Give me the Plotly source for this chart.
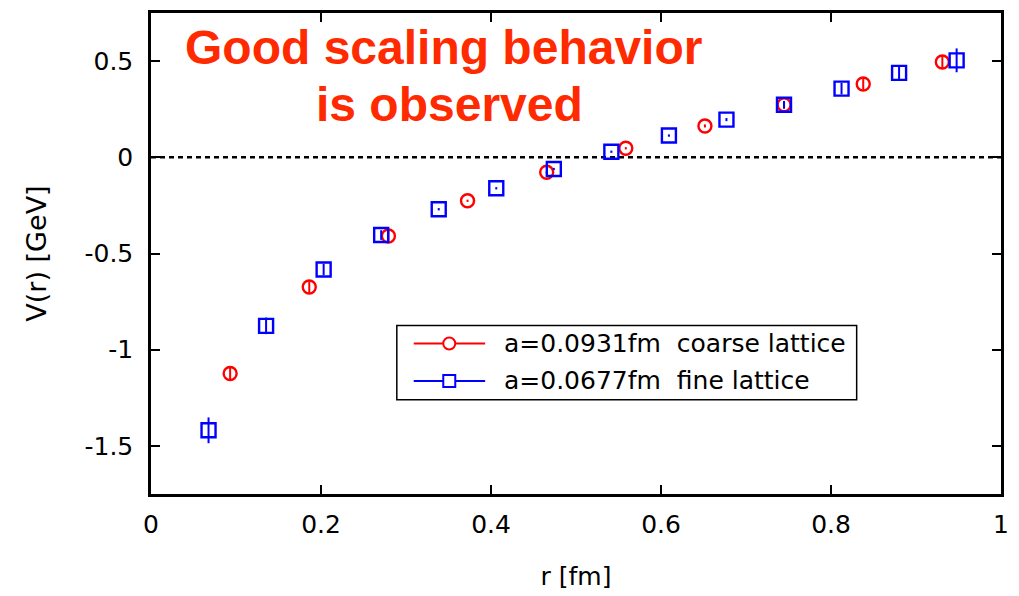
import plotly.graph_objects as go

# Static quark potential V(r) on two lattice spacings
r_coarse = [0.0931, 0.1862, 0.2793, 0.3724, 0.4655, 0.5586, 0.6517, 0.7448, 0.8379, 0.9310]
v_coarse = [-1.124, -0.674, -0.409, -0.226, -0.078, 0.047, 0.163, 0.273, 0.381, 0.495]
e_coarse = [0.038, 0.030, 0.025, 0.006, 0.006, 0.006, 0.008, 0.020, 0.030, 0.035]

r_fine = [0.0677, 0.1354, 0.2031, 0.2708, 0.3385, 0.4062, 0.4739, 0.5416, 0.6093,
          0.6770, 0.7447, 0.8124, 0.8801, 0.9478]
v_fine = [-1.419, -0.876, -0.583, -0.404, -0.270, -0.161, -0.061, 0.029, 0.113,
          0.196, 0.273, 0.357, 0.439, 0.504]
e_fine = [0.067, 0.043, 0.030, 0.025, 0.006, 0.006, 0.006, 0.006, 0.006,
          0.008, 0.020, 0.030, 0.040, 0.062]

label_coarse = "a=0.0931fm  coarse lattice"
label_fine = "a=0.0677fm  fine lattice"

x_ticks = [0, 0.2, 0.4, 0.6, 0.8, 1.0]
x_ticktext = ["0", "0.2", "0.4", "0.6", "0.8", "1"]
y_ticks = [0.5, 0, -0.5, -1, -1.5]
y_ticktext = ["0.5", "0", "-0.5", "-1", "-1.5"]

RED = "#ff0000"
BLUE = "#0000ff"
TITLE_RED = "#ff2a00"
FONT = "DejaVu Sans, Verdana, sans-serif"
BOLD_FONT = "Liberation Sans, Arial, Helvetica, sans-serif"

fig = go.Figure()

fig.add_trace(go.Scatter(
    x=r_coarse, y=v_coarse, mode="markers", name=label_coarse, showlegend=False,
    marker=dict(symbol="circle-open", size=13, color=RED, line=dict(width=2.4, color=RED)),
    error_y=dict(type="data", array=e_coarse, visible=True, width=0, thickness=2, color=RED),
))
fig.add_trace(go.Scatter(
    x=r_fine, y=v_fine, mode="markers", name=label_fine, showlegend=False,
    marker=dict(symbol="square-open", size=14, color=BLUE, line=dict(width=2.4, color=BLUE)),
    error_y=dict(type="data", array=e_fine, visible=True, width=0, thickness=2, color=BLUE),
))

# zero reference line
fig.add_shape(type="line", xref="paper", yref="y", x0=0, x1=1, y0=0, y1=0,
              line=dict(color="black", width=2.5, dash="5px,4px"), layer="below")

# key box with line + marker samples (paper coordinates)
key_x0, key_x1, key_y0, key_y1 = 0.2892, 0.8302, 0.1959, 0.3505
fig.add_shape(type="rect", xref="paper", yref="paper",
              x0=key_x0, x1=key_x1, y0=key_y0, y1=key_y1,
              line=dict(color="black", width=1.5), fillcolor="white")
key_rows = [
    (0.3128, RED, "circle", label_coarse),
    (0.2351, BLUE, "rect", label_fine),
]
for yk, col, shp, lab in key_rows:
    fig.add_shape(type="line", xref="paper", yref="paper",
                  x0=0.3091, x1=0.3931, y0=yk, y1=yk, line=dict(color=col, width=2))
    fig.add_shape(type=shp, xref="paper", yref="paper",
                  xsizemode="pixel", ysizemode="pixel", xanchor=0.3509, yanchor=yk,
                  x0=-6, x1=6, y0=-6, y1=6,
                  line=dict(color=col, width=2), fillcolor="white")
    fig.add_annotation(xref="paper", yref="paper", x=0.4133, y=yk,
                       xanchor="left", yanchor="middle", text=lab, showarrow=False,
                       font=dict(family=FONT, size=25, color="black"))

fig.add_annotation(
    xref="paper", yref="paper", x=0.3443, y=0.9876, xanchor="center", yanchor="top",
    text="Good scaling behavior", showarrow=False,
    font=dict(family=BOLD_FONT, size=48, color=TITLE_RED, weight="bold"),
)
fig.add_annotation(
    xref="paper", yref="paper", x=0.3513, y=0.868, xanchor="center", yanchor="top",
    text="is observed", showarrow=False,
    font=dict(family=BOLD_FONT, size=48, color=TITLE_RED, weight="bold"),
)

axis_common = dict(
    showline=True, linecolor="black", linewidth=2.5, mirror="ticks",
    ticks="inside", ticklen=9, tickwidth=2, tickcolor="black",
    showgrid=False, zeroline=False,
    tickfont=dict(family=FONT, size=25, color="black"),
)

fig.update_xaxes(
    range=[0, 1.0], tickvals=x_ticks, ticktext=x_ticktext, ticklabelstandoff=6,
    title=dict(text="r [fm]", font=dict(family=FONT, size=25, color="black"), standoff=30),
    **axis_common,
)
fig.update_yaxes(
    range=[-1.75, 0.75], tickvals=y_ticks, ticktext=y_ticktext, ticklabelstandoff=10,
    title=dict(text="V(r) [GeV]", font=dict(family=FONT, size=27, color="black"), standoff=31),
    **axis_common,
)

fig.update_layout(
    width=1019, height=596,
    margin=dict(l=151, r=14, t=10, b=101),
    paper_bgcolor="white", plot_bgcolor="white",
    showlegend=False,
)

fig.write_html("out.html")
